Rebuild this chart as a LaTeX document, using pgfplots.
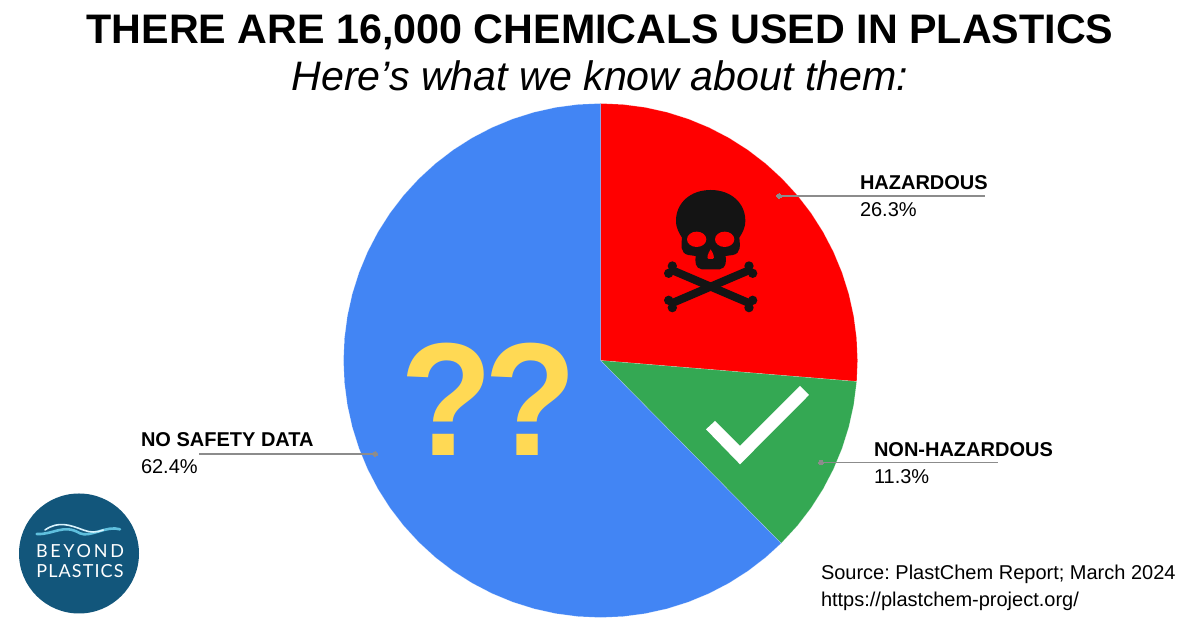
\documentclass[border=0pt]{standalone}
\usepackage{fontspec}
\setmainfont{Liberation Sans}
\newfontfamily\logofont[LetterSpace=6]{Lato}
\newfontfamily\logofontwide[LetterSpace=15]{Lato}
\usepackage{pgfplots}
\pgfplotsset{compat=1.18}
\frenchspacing
\definecolor{pblue}{HTML}{4285F4}
\definecolor{pred}{HTML}{FF0000}
\definecolor{pgreen}{HTML}{34A853}
\definecolor{qyellow}{HTML}{FFD954}
\definecolor{logoblue}{HTML}{12567B}
\definecolor{leader}{HTML}{8C8C8C}
\definecolor{skull}{HTML}{141414}
\definecolor{wavecyan}{HTML}{5FBFDD}
\newcommand{\fs}[1]{\fontsize{#1}{#1}\selectfont}
\begin{document}
\begin{tikzpicture}
\useasboundingbox (0,0) rectangle (1200pt,628pt);
\begin{axis}[
  at={(0,0)}, anchor=south west,
  scale only axis, width=1200pt, height=628pt,
  xmin=-600.5, xmax=599.5, ymin=-267.5, ymax=360.5,
  hide axis, clip=false]
% HAZARDOUS 26.3 %
\addplot[data cs=polar, fill=pred, draw=white, draw opacity=0.35, line width=0.4pt, mark=none] coordinates {
 (0,0)(90,257)(85,257)(80,257)(75,257)(70,257)(65,257)(60,257)(55,257)(50,257)(45,257)(40,257)(35,257)(30,257)(25,257)(20,257)(15,257)(10,257)(5,257)(0,257)(-4.68,257)} --cycle;
% NON-HAZARDOUS 11.3 %
\addplot[data cs=polar, fill=pgreen, draw=white, draw opacity=0.35, line width=0.4pt, mark=none] coordinates {
 (0,0)(-4.68,257)(-10,257)(-15,257)(-20,257)(-25,257)(-30,257)(-35,257)(-40,257)(-45.36,257)} --cycle;
% NO SAFETY DATA 62.4 %
\addplot[data cs=polar, fill=pblue, draw=white, draw opacity=0.35, line width=0.4pt, mark=none] coordinates {
 (0,0)(-45.36,257)(-50,257)(-55,257)(-60,257)(-65,257)(-70,257)(-75,257)(-80,257)(-85,257)(-90,257)(-95,257)(-100,257)(-105,257)(-110,257)(-115,257)(-120,257)(-125,257)(-130,257)(-135,257)(-140,257)(-145,257)(-150,257)(-155,257)(-160,257)(-165,257)(-170,257)(-175,257)(-180,257)(-185,257)(-190,257)(-195,257)(-200,257)(-205,257)(-210,257)(-215,257)(-220,257)(-225,257)(-230,257)(-235,257)(-240,257)(-245,257)(-250,257)(-255,257)(-260,257)(-265,257)(-270,257)} --cycle;
% leader lines
\addplot[leader, line width=1.1pt, mark=none] coordinates {(178.5,164.5)(384.5,164.5)};
\addplot[leader, line width=1.1pt, mark=none] coordinates {(220.5,-102)(397.5,-102)};
\addplot[leader, line width=1.1pt, mark=none] coordinates {(-225.5,-93.5)(-401.5,-93.5)};
\addplot[only marks, color=leader, mark=*, mark size=2.4pt, mark options={solid, draw=leader, fill=leader, line width=0pt}] coordinates {(178.5,164.5)(220.5,-102)(-225.5,-93.5)};
\end{axis}
% all decoration below uses reference pixel coordinates
\begin{scope}[x=1pt, y=-1pt, yshift=628pt, every node/.style={inner sep=0pt, outer sep=0pt}]
  \node[anchor=base] at (600,44) {\fs{41.25}\bfseries THERE ARE 16,000 CHEMICALS USED IN PLASTICS};
  \node[anchor=base] at (600,91) {\fs{41.15}\itshape Here’s what we know about them:};
  % slice labels
  \node[anchor=base west] at (860,190) {\fs{20}\bfseries HAZARDOUS};
  \node[anchor=base west] at (860,217) {\fs{20}26.3\%};
  \node[anchor=base west] at (874,457) {\fs{20}\bfseries NON-HAZARDOUS};
  \node[anchor=base west] at (874,484) {\fs{20}11.3\%};
  \node[anchor=base west] at (141,447) {\fs{20}\bfseries NO SAFETY DATA};
  \node[anchor=base west] at (141,474) {\fs{20}62.4\%};
  % source
  \node[anchor=base west] at (821,580) {\fs{20}Source: PlastChem Report; March 2024};
  \node[anchor=base west] at (821,607) {\fs{20}https://plastchem-project.org/};
  % question marks
  \node[anchor=base, text=qyellow, xscale=0.94] at (447,456) {\fs{161}\bfseries ?};
  \node[anchor=base, text=qyellow, xscale=0.94] at (531,456) {\fs{161}\bfseries ?};
  % check mark
  \begin{scope}[shift={(690,370)}, x=0.3333pt, y=-0.3333pt]
    \fill[white] (48,178)--(75,153)--(150,228)--(330,48)--(357,75)--(150,283)--cycle;
  \end{scope}
  % skull and crossbones
  \begin{scope}[shift={(640,170)}, x=0.3333pt, y=-0.3333pt]
    \fill[skull] (212,60) .. controls (150,60) and (108,100) .. (108,152)
      .. controls (108,175) and (118,190) .. (126,203)
      .. controls (124,225) and (120,250) .. (145,255)
      -- (167,258) .. controls (165,275) and (165,295) .. (185,298)
      -- (239,298) .. controls (259,295) and (259,275) .. (257,258)
      -- (279,255) .. controls (304,250) and (300,225) .. (298,203)
      .. controls (306,190) and (316,175) .. (316,152)
      .. controls (316,100) and (274,60) .. (212,60) -- cycle;
    \fill[pred] (170,208) ellipse [x radius=29, y radius=23];
    \fill[pred] (254,208) ellipse [x radius=29, y radius=23];
    \fill[pred] (212,238) .. controls (204,250) and (198,266) .. (206,267) -- (218,267) .. controls (226,266) and (220,250) .. (212,238) -- cycle;
    \draw[skull, line width=8pt] (95,300) -- (329,400);
    \draw[skull, line width=8pt] (329,300) -- (95,400);
    \foreach \px/\py in {97/288,86/310,327/288,338/310,86/391,97/413,338/391,327/413}
      \fill[skull] (\px,\py) circle [radius=14];
  \end{scope}
  % logo
  \fill[logoblue] (79,553.5) circle [radius=60];
  \begin{scope}[shift={(0,480)}, x=0.3333pt, y=-0.3333pt]
    \draw[wavecyan, line width=2.6pt, line cap=round] (110,162) .. controls (160,165) and (190,130) .. (240,160) .. controls (270,174) and (320,135) .. (360,148);
    \draw[white!85!cyan, line width=1.6pt, line cap=round] (135,150) .. controls (175,122) and (210,135) .. (250,150) .. controls (270,158) and (290,158) .. (310,150);
  \end{scope}
  \node[anchor=base, text=white] at (80,558) {\fs{18}\logofontwide BEYOND};
  \node[anchor=base, text=white] at (80,578) {\fs{18}\logofont PLASTICS};
\end{scope}
\end{tikzpicture}
\end{document}
